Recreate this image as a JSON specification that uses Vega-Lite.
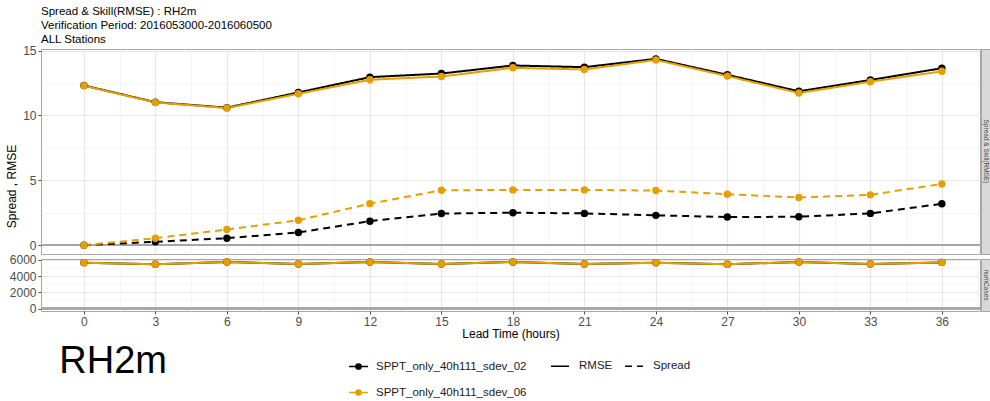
{
  "$schema": "https://vega.github.io/schema/vega-lite/v6.json",
  "padding": {"left": 5, "top": 5, "right": 0, "bottom": 0},
  "bounds": "flush",
  "columns": 2,
  "spacing": {"row": 5, "column": 1},
  "title": {
    "text": ["Spread & Skill(RMSE) : RH2m", "Verification Period: 2016053000-2016060500", "ALL Stations"],
    "anchor": "start", "frame": "group", "fontSize": 11.5, "fontWeight": "normal",
    "lineHeight": 14, "offset": -1, "color": "#000000", "font": "Liberation Sans"
  },
  "datasets": {
    "skill": [
      {"lead": 0, "exp": "SPPT_only_40h111_sdev_02", "metric": "RMSE", "value": 12.31},
      {"lead": 3, "exp": "SPPT_only_40h111_sdev_02", "metric": "RMSE", "value": 11.02},
      {"lead": 6, "exp": "SPPT_only_40h111_sdev_02", "metric": "RMSE", "value": 10.6},
      {"lead": 9, "exp": "SPPT_only_40h111_sdev_02", "metric": "RMSE", "value": 11.77},
      {"lead": 12, "exp": "SPPT_only_40h111_sdev_02", "metric": "RMSE", "value": 12.95},
      {"lead": 15, "exp": "SPPT_only_40h111_sdev_02", "metric": "RMSE", "value": 13.23},
      {"lead": 18, "exp": "SPPT_only_40h111_sdev_02", "metric": "RMSE", "value": 13.85},
      {"lead": 21, "exp": "SPPT_only_40h111_sdev_02", "metric": "RMSE", "value": 13.72},
      {"lead": 24, "exp": "SPPT_only_40h111_sdev_02", "metric": "RMSE", "value": 14.36},
      {"lead": 27, "exp": "SPPT_only_40h111_sdev_02", "metric": "RMSE", "value": 13.13},
      {"lead": 30, "exp": "SPPT_only_40h111_sdev_02", "metric": "RMSE", "value": 11.86},
      {"lead": 33, "exp": "SPPT_only_40h111_sdev_02", "metric": "RMSE", "value": 12.73},
      {"lead": 36, "exp": "SPPT_only_40h111_sdev_02", "metric": "RMSE", "value": 13.64},
      {"lead": 0, "exp": "SPPT_only_40h111_sdev_02", "metric": "Spread", "value": 0.0},
      {"lead": 3, "exp": "SPPT_only_40h111_sdev_02", "metric": "Spread", "value": 0.26},
      {"lead": 6, "exp": "SPPT_only_40h111_sdev_02", "metric": "Spread", "value": 0.54},
      {"lead": 9, "exp": "SPPT_only_40h111_sdev_02", "metric": "Spread", "value": 0.98},
      {"lead": 12, "exp": "SPPT_only_40h111_sdev_02", "metric": "Spread", "value": 1.85},
      {"lead": 15, "exp": "SPPT_only_40h111_sdev_02", "metric": "Spread", "value": 2.44},
      {"lead": 18, "exp": "SPPT_only_40h111_sdev_02", "metric": "Spread", "value": 2.5},
      {"lead": 21, "exp": "SPPT_only_40h111_sdev_02", "metric": "Spread", "value": 2.45},
      {"lead": 24, "exp": "SPPT_only_40h111_sdev_02", "metric": "Spread", "value": 2.3},
      {"lead": 27, "exp": "SPPT_only_40h111_sdev_02", "metric": "Spread", "value": 2.17},
      {"lead": 30, "exp": "SPPT_only_40h111_sdev_02", "metric": "Spread", "value": 2.19},
      {"lead": 33, "exp": "SPPT_only_40h111_sdev_02", "metric": "Spread", "value": 2.45},
      {"lead": 36, "exp": "SPPT_only_40h111_sdev_02", "metric": "Spread", "value": 3.19},
      {"lead": 0, "exp": "SPPT_only_40h111_sdev_06", "metric": "RMSE", "value": 12.29},
      {"lead": 3, "exp": "SPPT_only_40h111_sdev_06", "metric": "RMSE", "value": 11.0},
      {"lead": 6, "exp": "SPPT_only_40h111_sdev_06", "metric": "RMSE", "value": 10.57},
      {"lead": 9, "exp": "SPPT_only_40h111_sdev_06", "metric": "RMSE", "value": 11.67},
      {"lead": 12, "exp": "SPPT_only_40h111_sdev_06", "metric": "RMSE", "value": 12.75},
      {"lead": 15, "exp": "SPPT_only_40h111_sdev_06", "metric": "RMSE", "value": 13.0},
      {"lead": 18, "exp": "SPPT_only_40h111_sdev_06", "metric": "RMSE", "value": 13.67},
      {"lead": 21, "exp": "SPPT_only_40h111_sdev_06", "metric": "RMSE", "value": 13.54},
      {"lead": 24, "exp": "SPPT_only_40h111_sdev_06", "metric": "RMSE", "value": 14.28},
      {"lead": 27, "exp": "SPPT_only_40h111_sdev_06", "metric": "RMSE", "value": 13.03},
      {"lead": 30, "exp": "SPPT_only_40h111_sdev_06", "metric": "RMSE", "value": 11.73},
      {"lead": 33, "exp": "SPPT_only_40h111_sdev_06", "metric": "RMSE", "value": 12.6},
      {"lead": 36, "exp": "SPPT_only_40h111_sdev_06", "metric": "RMSE", "value": 13.4},
      {"lead": 0, "exp": "SPPT_only_40h111_sdev_06", "metric": "Spread", "value": 0.0},
      {"lead": 3, "exp": "SPPT_only_40h111_sdev_06", "metric": "Spread", "value": 0.54},
      {"lead": 6, "exp": "SPPT_only_40h111_sdev_06", "metric": "Spread", "value": 1.21},
      {"lead": 9, "exp": "SPPT_only_40h111_sdev_06", "metric": "Spread", "value": 1.92},
      {"lead": 12, "exp": "SPPT_only_40h111_sdev_06", "metric": "Spread", "value": 3.2},
      {"lead": 15, "exp": "SPPT_only_40h111_sdev_06", "metric": "Spread", "value": 4.23},
      {"lead": 18, "exp": "SPPT_only_40h111_sdev_06", "metric": "Spread", "value": 4.26},
      {"lead": 21, "exp": "SPPT_only_40h111_sdev_06", "metric": "Spread", "value": 4.26},
      {"lead": 24, "exp": "SPPT_only_40h111_sdev_06", "metric": "Spread", "value": 4.21},
      {"lead": 27, "exp": "SPPT_only_40h111_sdev_06", "metric": "Spread", "value": 3.93},
      {"lead": 30, "exp": "SPPT_only_40h111_sdev_06", "metric": "Spread", "value": 3.67},
      {"lead": 33, "exp": "SPPT_only_40h111_sdev_06", "metric": "Spread", "value": 3.88},
      {"lead": 36, "exp": "SPPT_only_40h111_sdev_06", "metric": "Spread", "value": 4.72}
    ],
    "cases": [
      {"lead": 0, "exp": "SPPT_only_40h111_sdev_02", "n": 5670},
      {"lead": 3, "exp": "SPPT_only_40h111_sdev_02", "n": 5470},
      {"lead": 6, "exp": "SPPT_only_40h111_sdev_02", "n": 5750},
      {"lead": 9, "exp": "SPPT_only_40h111_sdev_02", "n": 5500},
      {"lead": 12, "exp": "SPPT_only_40h111_sdev_02", "n": 5750},
      {"lead": 15, "exp": "SPPT_only_40h111_sdev_02", "n": 5500},
      {"lead": 18, "exp": "SPPT_only_40h111_sdev_02", "n": 5750},
      {"lead": 21, "exp": "SPPT_only_40h111_sdev_02", "n": 5500},
      {"lead": 24, "exp": "SPPT_only_40h111_sdev_02", "n": 5650},
      {"lead": 27, "exp": "SPPT_only_40h111_sdev_02", "n": 5470},
      {"lead": 30, "exp": "SPPT_only_40h111_sdev_02", "n": 5750},
      {"lead": 33, "exp": "SPPT_only_40h111_sdev_02", "n": 5500},
      {"lead": 36, "exp": "SPPT_only_40h111_sdev_02", "n": 5700},
      {"lead": 0, "exp": "SPPT_only_40h111_sdev_06", "n": 5670},
      {"lead": 3, "exp": "SPPT_only_40h111_sdev_06", "n": 5470},
      {"lead": 6, "exp": "SPPT_only_40h111_sdev_06", "n": 5750},
      {"lead": 9, "exp": "SPPT_only_40h111_sdev_06", "n": 5500},
      {"lead": 12, "exp": "SPPT_only_40h111_sdev_06", "n": 5750},
      {"lead": 15, "exp": "SPPT_only_40h111_sdev_06", "n": 5500},
      {"lead": 18, "exp": "SPPT_only_40h111_sdev_06", "n": 5750},
      {"lead": 21, "exp": "SPPT_only_40h111_sdev_06", "n": 5500},
      {"lead": 24, "exp": "SPPT_only_40h111_sdev_06", "n": 5650},
      {"lead": 27, "exp": "SPPT_only_40h111_sdev_06", "n": 5470},
      {"lead": 30, "exp": "SPPT_only_40h111_sdev_06", "n": 5750},
      {"lead": 33, "exp": "SPPT_only_40h111_sdev_06", "n": 5500},
      {"lead": 36, "exp": "SPPT_only_40h111_sdev_06", "n": 5700}
    ]
  },
  "concat": [
    {
      "width": 939,
      "height": 205,
      "data": {"name": "skill"},
      "layer": [
        {
          "mark": {"type": "point", "opacity": 0},
          "encoding": {
            "x": {"field": "lead", "type": "quantitative", "scale": {"domain": [-1.8, 37.6], "nice": false, "zero": false},
                  "axis": {"orient": "top", "values": [1.5, 4.5, 7.5, 10.5, 13.5, 16.5, 19.5, 22.5, 25.5, 28.5, 31.5, 34.5, 37.5], "labels": false, "ticks": false, "domain": false, "grid": true, "gridColor": "#f2f2f2", "gridWidth": 0.8, "title": null}},
            "y": {"field": "value", "type": "quantitative", "scale": {"domain": [-0.68, 15.12], "nice": false, "zero": false},
                  "axis": {"orient": "right", "values": [2.5, 7.5, 12.5], "labels": false, "ticks": false, "domain": false, "grid": true, "gridColor": "#f2f2f2", "gridWidth": 0.8, "title": null}}
          }
        },
        {
          "mark": {"type": "rule", "color": "#a6a6a6", "strokeWidth": 1.5},
          "encoding": {"y": {"datum": 0, "type": "quantitative", "axis": null}}
        },
        {
          "mark": {"type": "line", "strokeWidth": 2},
          "encoding": {
            "x": {"field": "lead", "type": "quantitative",
                  "axis": {"orient": "bottom", "values": [0, 3, 6, 9, 12, 15, 18, 21, 24, 27, 30, 33, 36], "labels": false, "ticks": false, "domain": false, "grid": true, "title": null}},
            "y": {"field": "value", "type": "quantitative",
                  "axis": {"orient": "left", "values": [0, 5, 10, 15], "format": "d", "grid": true, "title": "Spread , RMSE", "titleY": 137, "titlePadding": 4}},
            "color": {"field": "exp", "type": "nominal",
                      "scale": {"domain": ["SPPT_only_40h111_sdev_02", "SPPT_only_40h111_sdev_06"], "range": ["#000000", "#E69F00"]},
                      "legend": {"orient": "none", "legendX": 307, "legendY": 307, "title": null, "direction": "vertical", "columns": 1,
                                 "symbolType": "M-1,0H1M-0.27,0A0.27,0.27,0,1,0,0.27,0A0.27,0.27,0,1,0,-0.27,0",
                                 "symbolSize": 361, "symbolStrokeWidth": 1.6, "rowPadding": 9, "labelOffset": 7,
                                 "encode": {"symbols": {"update": {"fill": {"scale": "color", "field": "value"}, "stroke": {"scale": "color", "field": "value"}, "opacity": {"value": 1}}}}}},
            "strokeDash": {"field": "metric", "type": "nominal",
                           "scale": {"domain": ["RMSE", "Spread"], "range": [[1, 0], [7, 5]]},
                           "legend": {"orient": "none", "legendX": 509, "legendY": 307, "title": null, "direction": "horizontal",
                                      "symbolType": "stroke", "symbolSize": 324, "symbolStrokeWidth": 1.6, "symbolStrokeColor": "#000000",
                                      "columnPadding": 8, "labelOffset": 9,
                                      "encode": {"symbols": {"update": {"strokeDash": {"signal": "datum.value === 'Spread' ? [5, 6] : [1, 0]"}, "stroke": {"value": "#000000"}}}}}}
          }
        },
        {
          "mark": {"type": "point", "filled": true, "size": 55, "opacity": 1},
          "encoding": {
            "x": {"field": "lead", "type": "quantitative", "axis": null},
            "y": {"field": "value", "type": "quantitative", "axis": null},
            "color": {"field": "exp", "type": "nominal"}
          }
        }
      ],
      "resolve": {"axis": {"x": "independent", "y": "independent"}}
    },
    {
      "width": 10,
      "height": 205,
      "data": {"values": [{"label": "Spread & Skill(RMSE)"}]},
      "mark": {"type": "text", "angle": 90, "fontSize": 6.5, "color": "#4d4d4d", "font": "Liberation Sans"},
      "encoding": {"text": {"field": "label", "type": "nominal"}},
      "view": {"fill": "#d9d9d9", "stroke": "#a6a6a6"}
    },
    {
      "width": 939,
      "height": 52,
      "data": {"name": "cases"},
      "title": {"text": "RH2m", "orient": "bottom", "anchor": "start", "fontSize": 38, "fontWeight": "normal", "offset": 4, "dx": 50, "color": "#000000", "font": "Liberation Sans"},
      "layer": [
        {
          "mark": {"type": "point", "opacity": 0},
          "encoding": {
            "x": {"field": "lead", "type": "quantitative", "scale": {"domain": [-1.8, 37.6], "nice": false, "zero": false},
                  "axis": {"orient": "top", "values": [1.5, 4.5, 7.5, 10.5, 13.5, 16.5, 19.5, 22.5, 25.5, 28.5, 31.5, 34.5, 37.5], "labels": false, "ticks": false, "domain": false, "grid": true, "gridColor": "#f2f2f2", "gridWidth": 0.8, "title": null}},
            "y": {"field": "n", "type": "quantitative", "scale": {"domain": [-300, 6120], "nice": false, "zero": false},
                  "axis": {"orient": "right", "values": [1000, 3000, 5000], "labels": false, "ticks": false, "domain": false, "grid": true, "gridColor": "#f2f2f2", "gridWidth": 0.8, "title": null}}
          }
        },
        {
          "mark": {"type": "rule", "color": "#a6a6a6", "strokeWidth": 1.5},
          "encoding": {"y": {"datum": 0, "type": "quantitative", "axis": null}}
        },
        {
          "mark": {"type": "line", "strokeWidth": 2},
          "encoding": {
            "x": {"field": "lead", "type": "quantitative",
                  "axis": {"orient": "bottom", "values": [0, 3, 6, 9, 12, 15, 18, 21, 24, 27, 30, 33, 36], "format": "d", "grid": true, "title": "Lead Time (hours)", "titlePadding": 1}},
            "y": {"field": "n", "type": "quantitative",
                  "axis": {"orient": "left", "values": [0, 2000, 4000, 6000], "format": "d", "grid": true, "title": null}},
            "color": {"field": "exp", "type": "nominal"}
          }
        },
        {
          "mark": {"type": "point", "filled": true, "size": 55, "opacity": 1},
          "encoding": {
            "x": {"field": "lead", "type": "quantitative", "axis": null},
            "y": {"field": "n", "type": "quantitative", "axis": null},
            "color": {"field": "exp", "type": "nominal"}
          }
        }
      ],
      "resolve": {"axis": {"x": "independent", "y": "independent"}}
    },
    {
      "width": 10,
      "height": 52,
      "data": {"values": [{"label": "numCases"}]},
      "mark": {"type": "text", "angle": 90, "fontSize": 6.5, "color": "#4d4d4d", "font": "Liberation Sans"},
      "encoding": {"text": {"field": "label", "type": "nominal"}},
      "view": {"fill": "#d9d9d9", "stroke": "#a6a6a6"}
    }
  ],
  "resolve": {"scale": {"color": "shared", "strokeDash": "shared"}},
  "config": {
    "font": "Liberation Sans",
    "view": {"stroke": "#a6a6a6", "strokeWidth": 1},
    "axis": {
      "labelFont": "Liberation Sans", "labelFontSize": 12, "labelColor": "#4d4d4d", "labelPadding": 2,
      "tickColor": "#4d4d4d", "tickSize": 3, "domain": false,
      "gridColor": "#e6e6e6", "gridWidth": 1.2,
      "titleFont": "Liberation Sans", "titleFontSize": 12, "titleFontWeight": "normal", "titleColor": "#000000"
    },
    "legend": {"labelFont": "Liberation Sans", "labelFontSize": 11.5, "labelColor": "#1a1a1a"}
  }
}
